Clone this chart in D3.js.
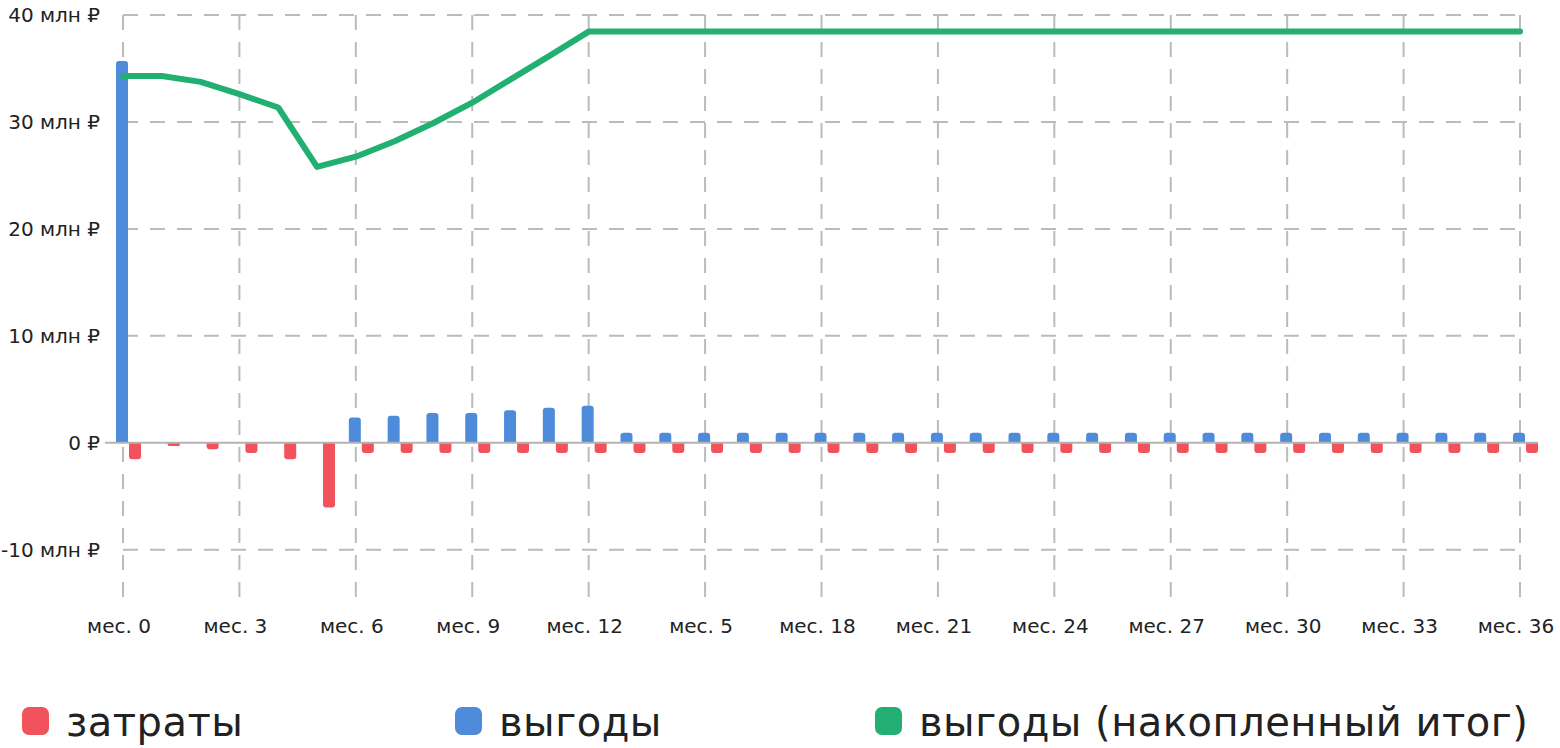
<!DOCTYPE html>
<html>
<head>
<meta charset="utf-8">
<script src="https://cdn.jsdelivr.net/npm/d3@7"></script>
<style>
  body { margin: 0; background: #fff; }
  svg { display: block; font-family: "DejaVu Sans", sans-serif; }
  .ylab, .xlab { font-size: 20px; fill: #222; }
  .legtxt { font-size: 40px; letter-spacing: 0.5px; fill: #222; }
</style>
</head>
<body>
<div class="chart"></div>
<script>
const months = d3.range(0, 37);

// затраты, млн ₽ (рисуются вниз)
const costs = [1.55, 0.3, 0.6, 0.95, 1.55, 6.05, 0.95, 0.95, 0.95, 0.95, 0.95, 0.95, 0.95,
  0.95, 0.95, 0.95, 0.95, 0.95, 0.95, 0.95, 0.95, 0.95, 0.95, 0.95, 0.95,
  0.95, 0.95, 0.95, 0.95, 0.95, 0.95, 0.95, 0.95, 0.95, 0.95, 0.95, 0.95];

// выгоды, млн ₽
const benefits = [35.7, 0, 0, 0, 0, 0, 2.37, 2.53, 2.78, 2.78, 3.05, 3.28, 3.47,
  0.95, 0.95, 0.95, 0.95, 0.95, 0.95, 0.95, 0.95, 0.95, 0.95, 0.95, 0.95,
  0.95, 0.95, 0.95, 0.95, 0.95, 0.95, 0.95, 0.95, 0.95, 0.95, 0.95, 0.95];

// выгоды (накопленный итог), млн ₽
const cumulative = [34.3, 34.3, 33.75, 32.6, 31.35, 25.8, 26.75, 28.2, 29.9, 31.8, 34.0, 36.2, 38.45,
  38.45, 38.45, 38.45, 38.45, 38.45, 38.45, 38.45, 38.45, 38.45, 38.45, 38.45, 38.45,
  38.45, 38.45, 38.45, 38.45, 38.45, 38.45, 38.45, 38.45, 38.45, 38.45, 38.45, 38.45];

const xTickMonths = [0, 3, 6, 9, 12, 15, 18, 21, 24, 27, 30, 33, 36];
const xTickLabels = ['мес. 0', 'мес. 3', 'мес. 6', 'мес. 9', 'мес. 12', 'мес. 5', 'мес. 18',
  'мес. 21', 'мес. 24', 'мес. 27', 'мес. 30', 'мес. 33', 'мес. 36'];
const yTicks = [40, 30, 20, 10, 0, -10];
const yTickLabels = ['40 млн ₽', '30 млн ₽', '20 млн ₽', '10 млн ₽', '0 ₽', '-10 млн ₽'];

const legendNames = ['затраты', 'выгоды', 'выгоды (накопленный итог)'];
const colors = ['#f2525b', '#4f8bdb', '#22b072'];

const width = 1560, height = 748;

const x = d3.scaleLinear().domain([0, 36]).range([123, 1520]);
const y = d3.scaleLinear().domain([-14.7, 40]).range([600, 15]);

const svg = d3.select('.chart').append('svg')
  .attr('width', width)
  .attr('height', height);

// сетка
svg.append('g').selectAll('line')
  .data(xTickMonths)
  .enter().append('line')
  .attr('x1', d => x(d)).attr('x2', d => x(d))
  .attr('y1', y(40)).attr('y2', y(-14.7))
  .attr('stroke', '#bbb').attr('stroke-width', 2)
  .attr('stroke-dasharray', '15,12');

svg.append('g').selectAll('line')
  .data(yTicks.filter(d => d !== 0))
  .enter().append('line')
  .attr('x1', x(0)).attr('x2', x(36))
  .attr('y1', d => y(d)).attr('y2', d => y(d))
  .attr('stroke', '#bbb').attr('stroke-width', 2)
  .attr('stroke-dasharray', '15,12');

// подписи осей
svg.append('g').selectAll('text')
  .data(yTicks)
  .enter().append('text')
  .attr('class', 'ylab')
  .attr('x', 100)
  .attr('y', d => y(d))
  .attr('dy', '0.36em')
  .attr('text-anchor', 'end')
  .text((d, i) => yTickLabels[i]);

svg.append('g').selectAll('text')
  .data(xTickMonths)
  .enter().append('text')
  .attr('class', 'xlab')
  .attr('x', d => x(d) - 4)
  .attr('y', 633)
  .attr('text-anchor', 'middle')
  .text((d, i) => xTickLabels[i]);

// бары со скруглённым концом
function barPath(x0, w, yBase, yEnd) {
  const r = Math.min(3, Math.abs(yEnd - yBase) / 2, w / 2);
  const s = yEnd < yBase ? 1 : -1;
  return `M${x0},${yBase} L${x0},${yEnd + s * r} Q${x0},${yEnd} ${x0 + r},${yEnd}` +
    ` L${x0 + w - r},${yEnd} Q${x0 + w},${yEnd} ${x0 + w},${yEnd + s * r} L${x0 + w},${yBase} Z`;
}

svg.append('g').selectAll('path')
  .data(months.filter(m => benefits[m] > 0))
  .enter().append('path')
  .attr('fill', colors[1])
  .attr('d', m => barPath(x(m) - 7, 12, y(0), y(benefits[m])));

svg.append('g').selectAll('path')
  .data(months)
  .enter().append('path')
  .attr('fill', colors[0])
  .attr('d', m => barPath(x(m) + 6, 12, y(0), y(-costs[m])));

// нулевая линия
svg.append('line')
  .attr('x1', 105).attr('x2', 1538)
  .attr('y1', y(0)).attr('y2', y(0))
  .attr('stroke', '#b3b3b3').attr('stroke-width', 2);

// накопленный итог
const line = d3.line()
  .x(m => x(m))
  .y(m => y(cumulative[m]));

svg.append('path')
  .datum(months)
  .attr('fill', 'none')
  .attr('stroke', colors[2])
  .attr('stroke-width', 6)
  .attr('stroke-linejoin', 'round')
  .attr('stroke-linecap', 'round')
  .attr('d', line);

// легенда
const legX = [22, 455, 875];
const leg = svg.append('g').selectAll('g')
  .data(legendNames)
  .enter().append('g')
  .attr('transform', (d, i) => `translate(${legX[i]},707)`);

leg.append('rect')
  .attr('width', 27).attr('height', 28)
  .attr('rx', 7)
  .attr('fill', (d, i) => colors[i]);

leg.append('text')
  .attr('class', 'legtxt')
  .attr('x', 44)
  .attr('y', 29)
  .text(d => d);
</script>
</body>
</html>
